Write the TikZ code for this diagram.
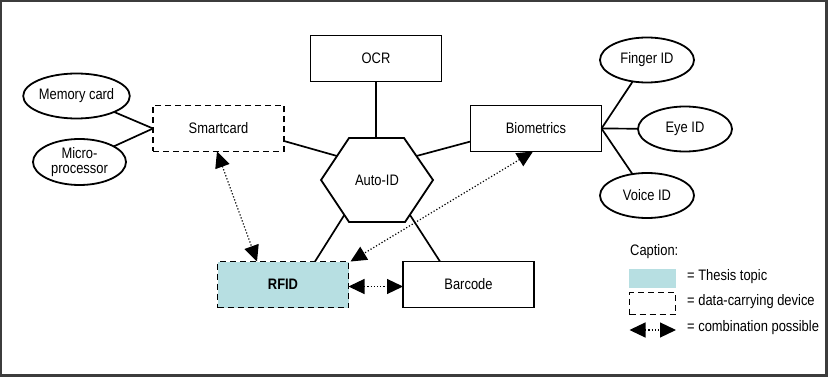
\documentclass[tikz,border=0pt]{standalone}
\usepackage{fontspec}
\setmainfont{Liberation Sans}[FakeStretch=0.85]
\usetikzlibrary{shapes.geometric,arrows.meta,calc}
\definecolor{thesis}{RGB}{183,223,226}
\definecolor{framegray}{RGB}{60,60,60}
\tikzset{
  base/.style={draw=black,line width=1.8pt,inner sep=0pt,outer sep=0pt,font=\fontsize{15.2}{16}\selectfont,align=center},
  box/.style={base,rectangle,minimum width=131pt,minimum height=46pt},
  dbox/.style={box,dash pattern=on 6pt off 4pt},
  oval/.style={base,ellipse,minimum width=93pt,minimum height=45pt},
  link/.style={line width=1.7pt},
  combo/.style={line width=1.2pt,dotted,{Triangle[length=16pt,width=15pt]}-{Triangle[length=16pt,width=15pt]}},
  txt/.style={inner sep=0pt,font=\fontsize{15.2}{16}\selectfont,anchor=west},
}
\begin{document}
\begin{tikzpicture}[x=1pt,y=-1pt]
\useasboundingbox (0,0) rectangle (828,377);
\draw[framegray,line width=2.4pt] (1.2,1.2) rectangle (826.5,375.5);

% hexagon
\coordinate (hA) at (349,138);
\coordinate (hB) at (404,138);
\coordinate (hC) at (433,180);
\coordinate (hD) at (405,222);
\coordinate (hE) at (349,222);
\coordinate (hF) at (321,180);
\draw[line width=1.8pt,line join=miter] (hA) -- (hB) -- (hC) -- (hD) -- (hE) -- (hF) -- cycle;
\node[txt,anchor=center] (auto) at (377,180) {Auto-ID};
\coordinate (hul) at (337,156);
\coordinate (hur) at (416.5,156);
\coordinate (hll) at (344.3,215);
\coordinate (hlr) at (410,215);

\node[box] (ocr) at (376,58.5) {OCR};
\node[oval] (mem) at (76.5,96) {Memory card};
\node[oval,minimum height=46pt] (micro) at (79.5,162) {Micro-\\[-1pt]processor};
\node[dbox] (smart) at (218.5,128.5) {Smartcard};
\node[box] (bio) at (536,128.5) {Biometrics};
\node[oval,minimum width=94pt] (finger) at (647,60) {Finger ID};
\node[oval,minimum width=94pt] (eye) at (685,129) {Eye ID};
\node[oval,minimum width=94pt] (voice) at (647,195.5) {Voice ID};
\node[dbox,fill=thesis,font=\fontsize{15.2}{16}\selectfont\bfseries] (rfid) at (283,284.5) {RFID};
\node[box] (bar) at (468.5,284.5) {Barcode};

% connectors
\draw[link] (mem) -- (smart.west);
\draw[link] (micro) -- (smart.west);
\draw[link] ([yshift=-12.5pt]smart.east) -- (hul);
\draw[link] (ocr.south) -- (ocr.south |- hA);
\draw[link] ([yshift=-13pt]bio.west) -- (hur);
\draw[link] (hll) -- ([xshift=32pt]rfid.north);
\draw[link] (hlr) -- ([xshift=-28.5pt]bar.north);
\draw[link] (bio.east) -- (finger);
\draw[link] (bio.east) -- (eye);
\draw[link] (bio.east) -- (voice);

% combination arrows
\draw[combo] ([xshift=-1.5pt]smart.south) -- ([xshift=-26pt]rfid.north);
\draw[combo] ([xshift=-3pt]bio.south) -- ([xshift=2pt]rfid.north east);
\draw[combo] ([yshift=-2pt]rfid.east) -- ([yshift=-2pt]bar.west);

% legend
\node[txt] (cap) at (630,252) {Caption:};
\node[fill=thesis,inner sep=0pt,outer sep=0pt,minimum width=47pt,minimum height=19pt,anchor=north west] (lt) at (629,269) {};
\node[draw,line width=1.8pt,dash pattern=on 6pt off 4pt,inner sep=0pt,outer sep=0pt,minimum width=46pt,minimum height=22pt,anchor=north west] (ld) at (629.5,292.5) {};
\coordinate (la) at (629.5,330);
\coordinate (lb) at (676,330);
\draw[combo] (la) -- (lb);
\node[txt] (t1) at (687,277) {= Thesis topic};
\node[txt] (t2) at (687,302) {= data-carrying device};
\node[txt] (t3) at (687,328) {= combination possible};
\end{tikzpicture}
\end{document}
